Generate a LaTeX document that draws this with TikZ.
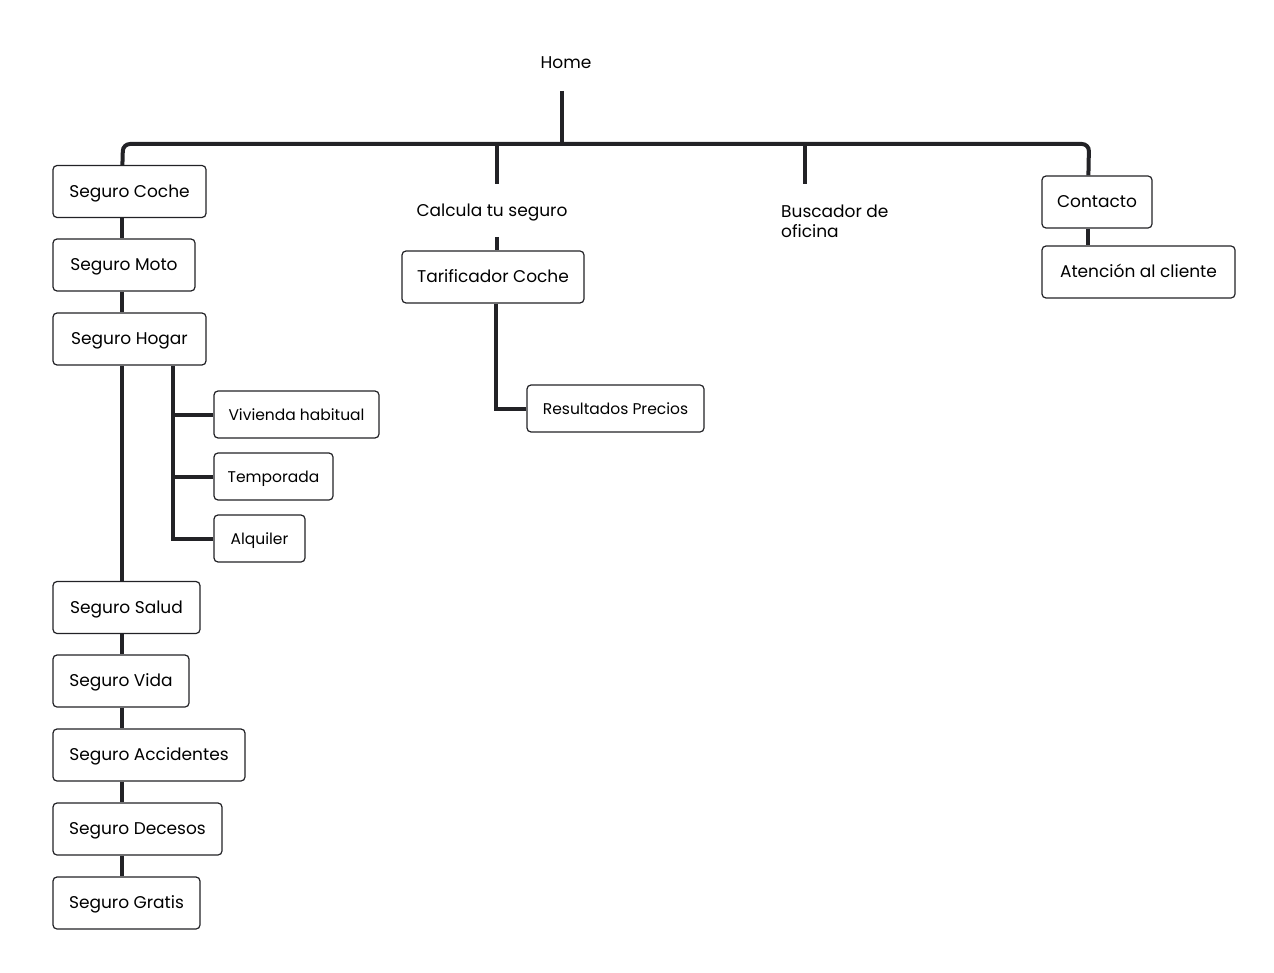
\documentclass[tikz,border=0pt]{standalone}
\usepackage{fontspec}
\setmainfont{Poppins}
\definecolor{ink}{HTML}{222226}
\tikzstyle{box}=[draw=ink,line width=1.2pt,rounded corners=4pt,fill=white,inner sep=0pt,
    text height=1.12em,text depth=0pt,font=\fontsize{17}{20}\selectfont]
\tikzstyle{sub box}=[box,font=\fontsize{15.5}{18}\selectfont]
\tikzstyle{label}=[inner sep=0pt,font=\fontsize{17}{20}\selectfont]
\tikzstyle{link}=[draw=ink,line width=4pt]
\begin{document}
\begin{tikzpicture}[x=1pt,y=-1pt]
    \useasboundingbox (0,0) rectangle (1274,973);
    % Plain labels
    \node[label,text height=1.14em,text depth=0pt] (home) at (566,63) {Home};
    \node[label,text height=1.1em,text depth=0pt] (calcula) at (492,211) {Calcula tu seguro};
    \node[label,anchor=west,align=left] (buscador) at (781,221) {Buscador de\\oficina};
    % Main boxes
    \foreach \pos/\name/\w/\txt in {{(129.5,191.5)/coche/153/Seguro Coche},
        {(124,265)/moto/142/Seguro Moto},{(129.5,339)/hogar/153/Seguro Hogar},
        {(126.5,607.5)/salud/147/Seguro Salud},{(121,681)/vida/136/Seguro Vida},
        {(149,755)/accidentes/192/Seguro Accidentes},{(137.5,829)/decesos/169/Seguro Decesos},
        {(126.5,903)/gratis/147/Seguro Gratis},
        {(493,277)/tarificador/182/Tarificador Coche},
        {(1097,202)/contacto/110/Contacto},{(1138.5,272)/atencion/193/Atención al cliente}}
    \node[box,minimum width=\w pt,minimum height=52pt] (\name) at \pos {\txt};
    % Sub boxes
    \foreach \pos/\name/\w/\txt in {{(296.5,414.5)/vivienda/165/Vivienda habitual},
        {(273.5,476.5)/temporada/119/Temporada},{(259.5,538.5)/alquiler/91/Alquiler},
        {(615.5,408.5)/resultados/177/Resultados Precios}}
    \node[sub box,minimum width=\w pt,minimum height=47pt] (\name) at \pos {\txt};
    % Junction points
    \coordinate (barL) at (123,144);
    \coordinate (barR) at (1089,144);
    \coordinate (homestem) at (562,91);
    \coordinate (calcstem) at (497,184);
    \coordinate (calcfoot) at (497,237);
    \coordinate (buscstem) at (805,184);
    \coordinate (hogarsub) at ([xshift=121pt]hogar.south west);
    % Top bar
    \path[link] (homestem) -- (homestem |- barL);
    \path[link,rounded corners=7pt] ([xshift=70pt]coche.north west) -- (barL) -- (barR)
        -- ([xshift=47pt]contacto.north west);
    \path[link] (calcstem |- barL) -- (calcstem);
    \path[link] (buscstem |- barL) -- (buscstem);
    \path[link] (calcfoot) -- (calcfoot |- tarificador.north);
    \path[link] ([xshift=3pt]tarificador.south) |- (resultados.west);
    \path[link] ([xshift=47pt]contacto.south west) -- ([xshift=47pt]atencion.north west);
    % Left column
    \foreach \source/ \dest in {coche/moto, moto/hogar, hogar/salud, salud/vida,
        vida/accidentes, accidentes/decesos, decesos/gratis}
    \path[link] ([xshift=70pt]\source.south west) -- ([xshift=70pt]\dest.north west);
    \path[link] (hogarsub) |- (alquiler.west);
    \foreach \dest in {vivienda, temporada}
    \path[link] (\dest.west) -- (\dest.west -| hogarsub);
\end{tikzpicture}
\end{document}
